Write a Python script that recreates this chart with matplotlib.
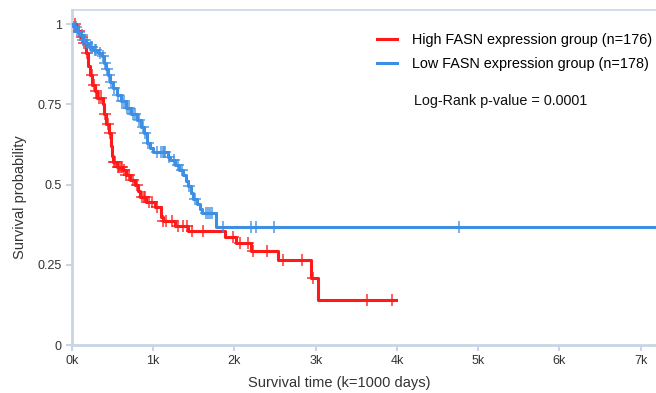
# km plot - survival by FASN expression group

import numpy as np
import matplotlib
matplotlib.use( 'Agg' )
import matplotlib.pyplot as plt

# configure; event times (k days) and survival after each step
HIGH_TIMES = [ 0, 0.05, 0.10, 0.135, 0.17, 0.20, 0.22, 0.25, 0.28, 0.31, 0.38, 0.39, 0.42, 0.46, 0.48, 0.49, 0.50,
               0.55, 0.63, 0.66, 0.71, 0.78, 0.81, 0.84, 0.91, 1.02, 1.10, 1.12, 1.27, 1.43, 1.88, 2.02, 2.20,
               2.54, 2.94, 3.03, 3.99 ]
HIGH_SURV  = [ 1, 0.98, 0.96, 0.94, 0.91, 0.87, 0.84, 0.81, 0.79, 0.77, 0.75, 0.72, 0.69, 0.66, 0.62, 0.59, 0.57,
               0.555, 0.545, 0.53, 0.515, 0.50, 0.48, 0.46, 0.445, 0.43, 0.40, 0.385, 0.37, 0.355, 0.336, 0.317, 0.293,
               0.265, 0.21, 0.14, 0.14 ]
HIGH_CENSOR = [ 0.04, 0.08, 0.12, 0.15, 0.19, 0.24, 0.27, 0.29, 0.33, 0.36, 0.40, 0.44, 0.47, 0.52, 0.53, 0.56,
                0.58, 0.60, 0.61, 0.64, 0.67, 0.70, 0.75, 0.80, 0.86, 0.88, 0.90, 0.95, 0.99, 1.05, 1.12, 1.16,
                1.23, 1.30, 1.37, 1.42, 1.48, 1.61, 1.98, 2.07, 2.17, 2.23, 2.40, 2.60, 2.83, 2.97, 3.63, 3.94 ]

LOW_TIMES  = [ 0, 0.02, 0.06, 0.10, 0.135, 0.17, 0.21, 0.26, 0.32, 0.37, 0.39, 0.42, 0.44, 0.47, 0.50, 0.55, 0.60,
               0.66, 0.73, 0.80, 0.85, 0.89, 0.92, 0.96, 1.00, 1.18, 1.21, 1.27, 1.32, 1.37, 1.40, 1.43, 1.47,
               1.49, 1.54, 1.58, 1.60, 1.77, 7.30 ]
LOW_SURV   = [ 1, 0.99, 0.975, 0.965, 0.95, 0.94, 0.93, 0.92, 0.91, 0.90, 0.88, 0.86, 0.84, 0.82, 0.80, 0.78, 0.76,
               0.74, 0.72, 0.70, 0.68, 0.66, 0.63, 0.615, 0.60, 0.585, 0.575, 0.56, 0.545, 0.53, 0.51, 0.495, 0.475,
               0.455, 0.44, 0.425, 0.41, 0.368, 0.368 ]
LOW_CENSOR = [ 0.03, 0.05, 0.08, 0.12, 0.14, 0.16, 0.19, 0.23, 0.25, 0.28, 0.30, 0.35, 0.38, 0.40, 0.43, 0.45,
               0.48, 0.52, 0.57, 0.62, 0.64, 0.68, 0.70, 0.75, 0.78, 0.82, 0.87, 0.90, 0.94, 1.05, 1.10, 1.12,
               1.13, 1.15, 1.20, 1.25, 1.30, 1.35, 1.44, 1.52, 1.65, 1.68, 1.70, 1.72, 1.86, 2.20, 2.26, 2.49, 4.77 ]

LABELS  = [ 'High FASN expression group (n=176)', 'Low FASN expression group (n=178)' ]
COLORS  = [ '#ff1a1a', '#3d8fe3' ]
XTICKS  = [ 0, 1, 2, 3, 4, 5, 6, 7 ]
XLABELS = [ '0k', '1k', '2k', '3k', '4k', '5k', '6k', '7k' ]
YTICKS  = [ 0, 0.25, 0.5, 0.75, 1 ]
YLABELS = [ '0', '0.25', '0.5', '0.75', '1' ]
AXIS    = '#c9d5e6'

# initialize
plt.rcParams[ 'font.family' ] = [ 'Liberation Sans', 'DejaVu Sans' ]
figure = plt.figure( figsize=( 6.56, 3.93 ), dpi=100 )
axis   = figure.add_axes( [ 0.1098, 0.1221, 0.8902, 0.8525 ] )

# plot each group; steps plus censor marks
groups = [ ( HIGH_TIMES, HIGH_SURV, HIGH_CENSOR ), ( LOW_TIMES, LOW_SURV, LOW_CENSOR ) ]
for ( times, surv, censor ), label, color in zip( groups, LABELS, COLORS ) :

	axis.step( times, surv, where='post', color=color, linewidth=2.2, label=label, zorder=3 )
	index = np.searchsorted( times, censor, side='right' ) - 1
	axis.plot( censor, np.array( surv )[ index ], linestyle='none', marker='+', markersize=8,
	           markeredgewidth=1.1, color=color, alpha=0.9, zorder=3 )

# scales
axis.set_xlim( 0, 7.19 )
axis.set_ylim( 0, 1.044 )
axis.set_xticks( XTICKS, XLABELS )
axis.set_yticks( YTICKS, YLABELS )
axis.tick_params( colors=AXIS, labelcolor='#333333', labelsize=9, length=4, width=1.5 )

# spines
for side in [ 'left', 'bottom' ] : axis.spines[ side ].set_color( AXIS ); axis.spines[ side ].set_linewidth( 2 )
axis.spines[ 'top' ].set_color( AXIS )
axis.spines[ 'top' ].set_linewidth( 1.2 )
axis.spines[ 'right' ].set_visible( False )

# labels
axis.set_xlabel( 'Survival time (k=1000 days)', fontsize=10.5, color='#333333' )
axis.set_ylabel( 'Survival probability', fontsize=10.5, color='#333333' )
axis.xaxis.set_label_coords( 0.457, -0.093 )
axis.yaxis.set_label_coords( -0.077, 0.442 )

# legend and p-value
axis.legend( loc='upper left', bbox_to_anchor=( 0.5, 0.97 ), frameon=False, fontsize=10.4,
             handlelength=1.4, handletextpad=1.0, labelspacing=0.7 )
axis.text( 0.586, 0.728, 'Log-Rank p-value = 0.0001', transform=axis.transAxes, fontsize=10.4,
           color='#111111', va='center' )

# save
plt.savefig( 'out.png', dpi=100 )
